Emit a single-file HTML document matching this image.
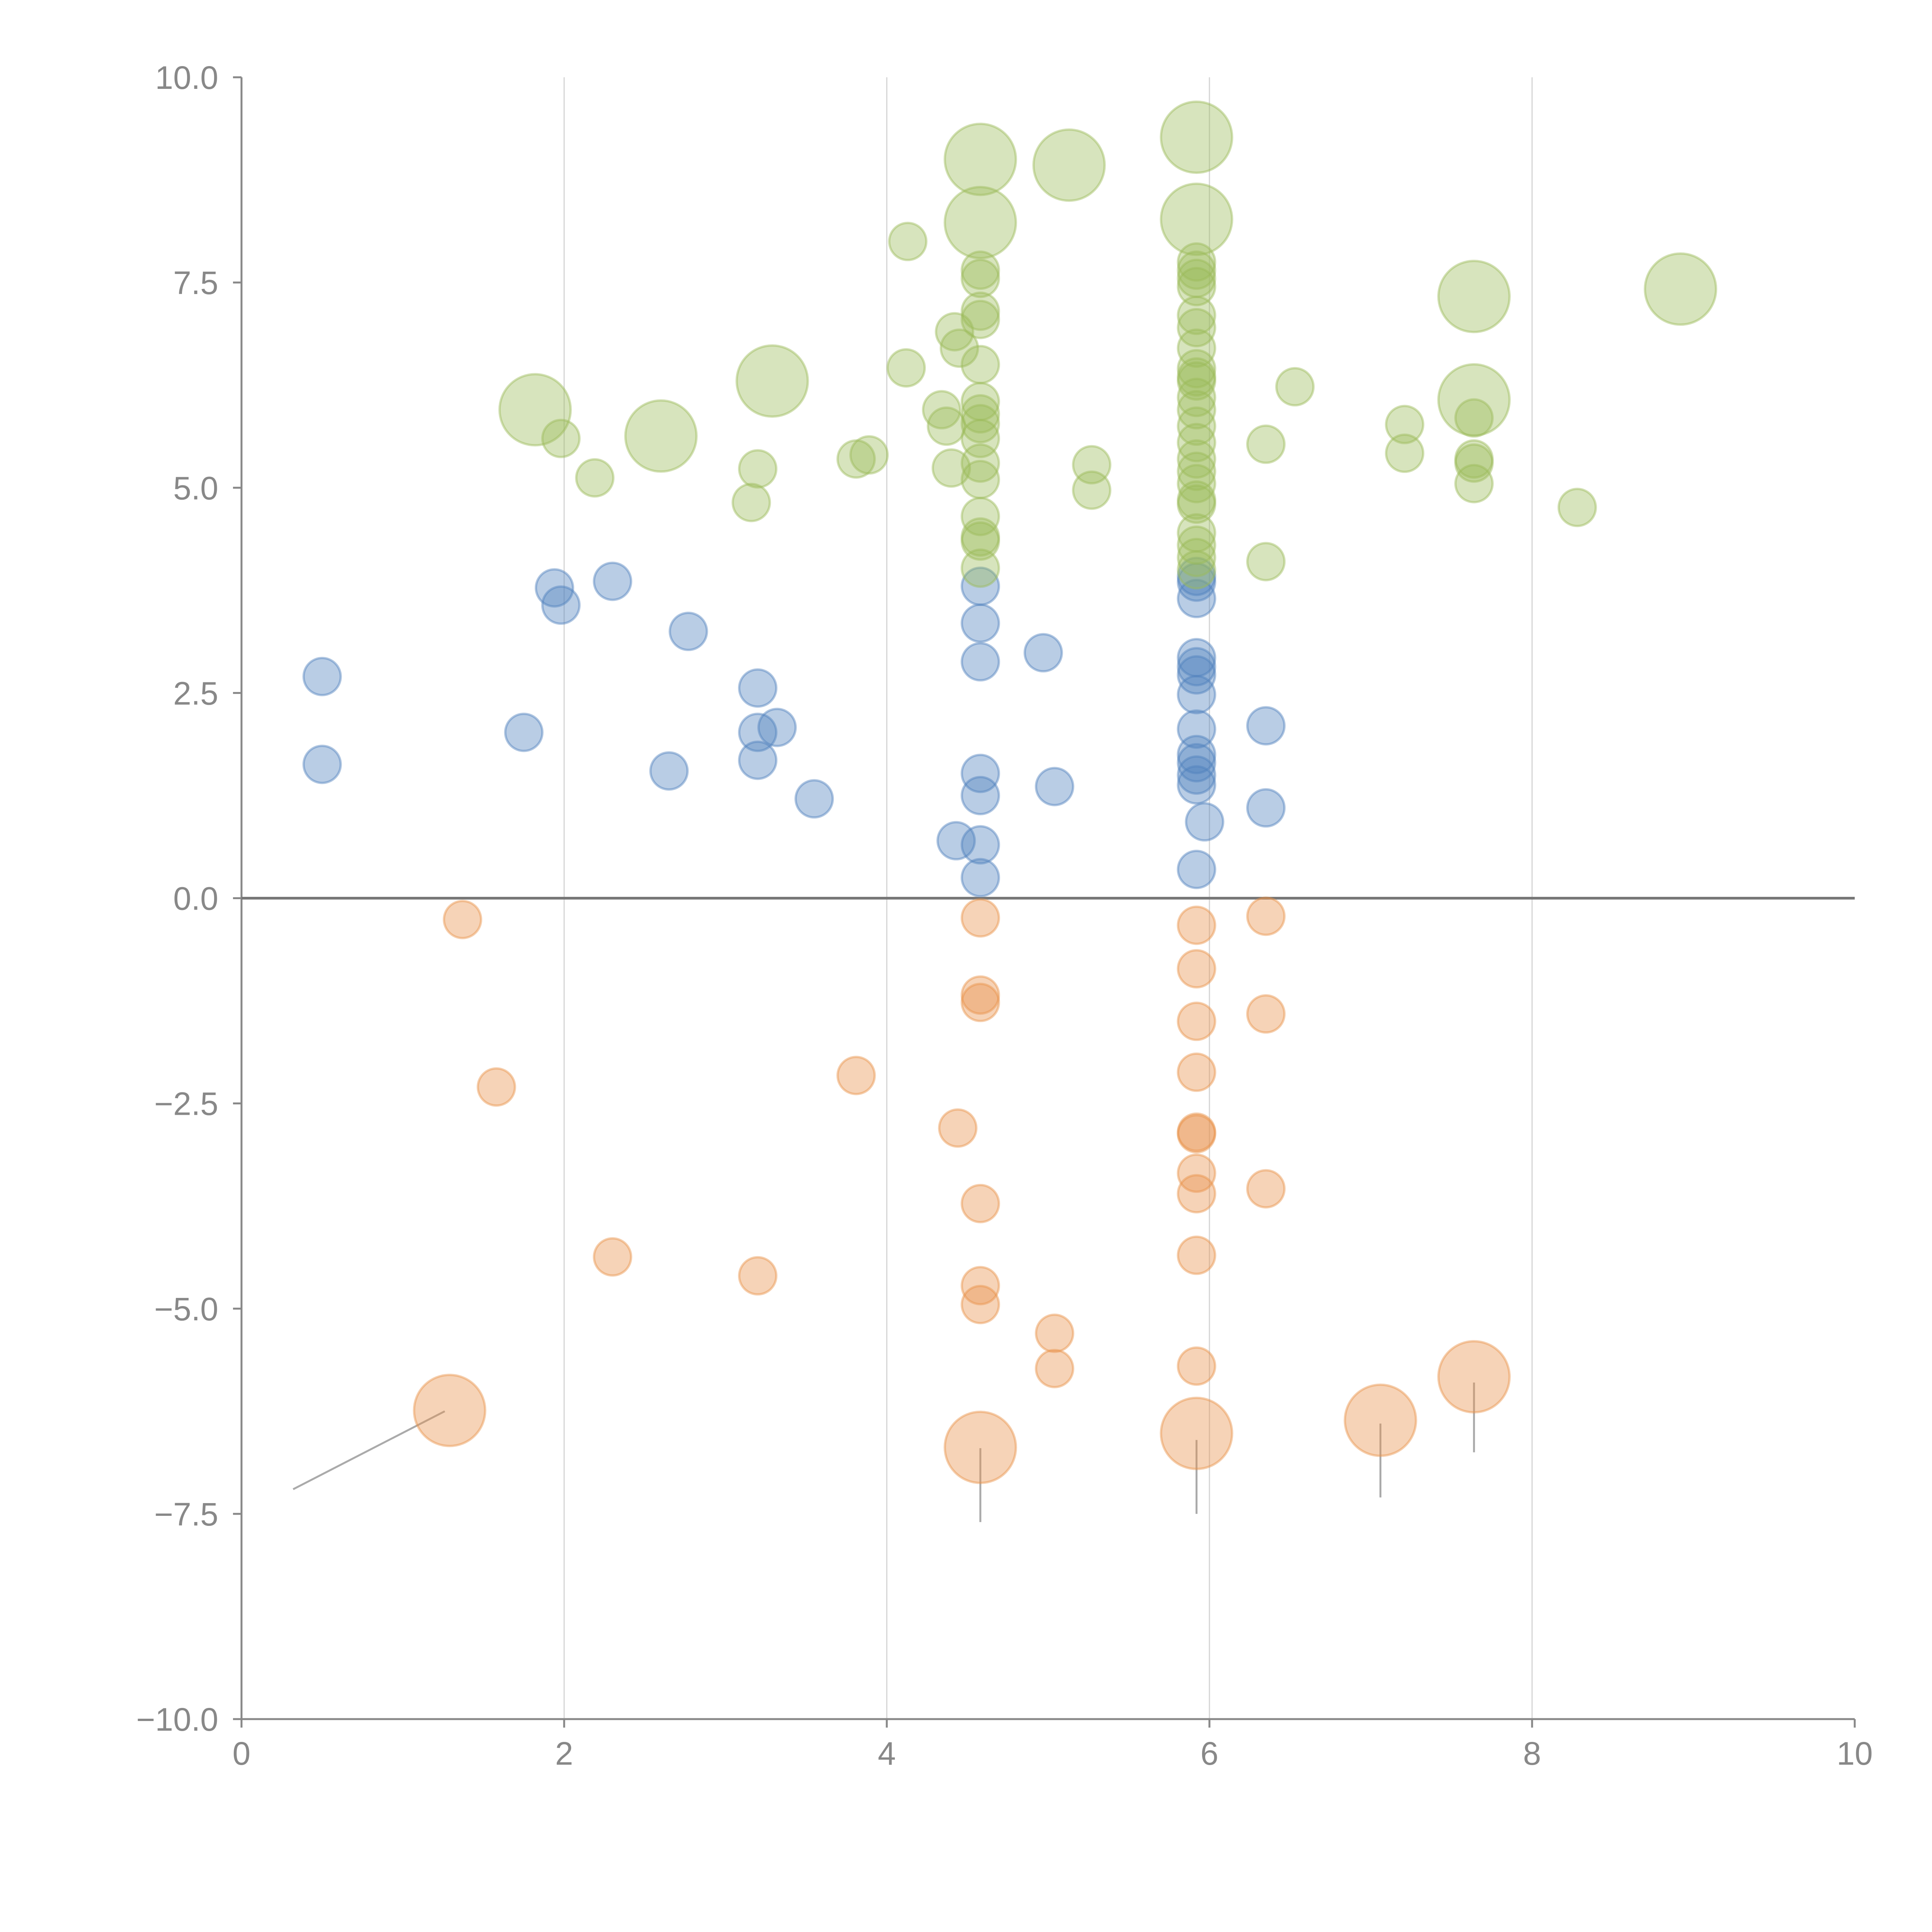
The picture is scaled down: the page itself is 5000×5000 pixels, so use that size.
<!DOCTYPE html>
<html><head><meta charset="utf-8"><style>html,body{margin:0;padding:0;background:#fff}svg{display:block}</style></head>
<body>
<svg id="chart" width="5000" height="5000" viewBox="0 0 5000 5000" xmlns="http://www.w3.org/2000/svg" font-family="'Liberation Sans', sans-serif">
<g id="grid"></g>
<g id="axes"></g>
<g id="marks"></g>
</svg>
<script>
const xTicks = [0, 2, 4, 6, 8, 10];
const yTicks = [-10, -7.5, -5, -2.5, 0, 2.5, 5, 7.5, 10];
const yTickLabels = ["\u221210.0", "\u22127.5", "\u22125.0", "\u22122.5", "0.0", "2.5", "5.0", "7.5", "10.0"];

const blueX = [0.5,0.5,1.75,1.94,1.98,2.3,2.77,2.65,3.2,3.2,3.32,3.2,3.55,4.43,4.58,4.58,4.58,4.58,4.58,4.58,4.58,4.97,5.04,5.92,5.97,5.92,5.92,5.92,5.92,5.92,5.92,5.92,5.92,5.92,5.92,5.92,5.92,6.35,6.35];
const blueY = [2.7,1.63,2.02,3.78,3.57,3.86,3.25,1.55,2.56,2.02,2.08,1.68,1.21,0.7,0.65,0.25,1.52,1.25,2.88,3.35,3.8,2.99,1.36,0.35,0.93,1.38,1.5,1.65,1.75,2.06,2.48,2.72,2.82,2.93,3.65,3.85,3.92,2.1,1.1];
const blueSize = blueX.map(() => 1);

const orangeX = [1.37,1.58,2.3,3.2,3.81,4.44,4.58,4.58,4.58,4.58,4.58,4.58,5.04,5.04,5.92,5.92,5.92,5.92,5.92,5.92,5.92,5.92,5.92,5.92,6.35,6.35,6.35,1.29,4.58,5.92,7.06,7.64];
const orangeY = [-0.26,-2.3,-4.37,-4.6,-2.16,-2.8,-0.24,-1.18,-1.27,-3.72,-4.72,-4.95,-5.3,-5.73,-0.33,-0.86,-1.5,-2.12,-2.85,-2.87,-3.35,-3.6,-4.35,-5.7,-0.22,-1.41,-3.54,-6.24,-6.69,-6.52,-6.36,-5.83];
const orangeSize = [1,1,1,1,1,1,1,1,1,1,1,1,1,1,1,1,1,1,1,1,1,1,1,1,1,1,1,2,2,2,2,2];

const leaderFromX = [1.26,4.58,5.92,7.06,7.64];
const leaderFromY = [-6.25,-6.7,-6.6,-6.4,-5.9];
const leaderToX = [0.32,4.58,5.92,7.06,7.64];
const leaderToY = [-7.2,-7.6,-7.5,-7.3,-6.75];

const greenX = [1.98,2.19,3.16,3.2,3.81,3.89,4.13,4.12,4.34,4.37,4.42,4.45,4.4,4.58,4.58,4.58,4.58,4.58,4.58,4.58,4.58,4.58,4.58,4.58,4.58,4.58,4.58,4.58,5.27,5.27,
5.92,5.92,5.92,5.92,5.92,5.92,5.92,5.92,5.92,5.92,5.92,5.92,5.92,5.92,5.92,5.92,5.92,5.92,5.92,5.92,5.92,5.92,5.92,
6.35,6.35,6.53,7.21,7.21,7.64,7.64,7.64,7.64,8.28,
1.82,2.6,3.29,4.58,4.58,5.13,5.92,5.92,7.64,7.64,8.92];
const greenY = [5.6,5.12,4.82,5.23,5.35,5.4,8.0,6.46,5.95,5.75,6.9,6.7,5.24,7.65,7.55,7.15,7.05,6.5,6.05,5.9,5.78,5.6,5.3,5.1,4.65,4.4,4.35,4.02,5.28,4.97,
7.75,7.65,7.55,7.45,7.1,6.95,6.7,6.45,6.35,6.3,6.1,5.95,5.75,5.55,5.35,5.2,5.05,4.85,4.8,4.45,4.3,4.15,4.0,
5.53,4.1,6.23,5.77,5.42,5.85,5.35,5.3,5.05,4.76,
5.95,5.63,6.3,9.0,8.23,8.93,9.27,8.27,7.33,6.07,7.42];
const greenSize = greenX.map((v, i) => i >= 63 ? 2 : 1);

const X0 = 625, X1 = 4800, Y0 = 4449, Y1 = 200;
function sx(v) { return X0 + (v - 0) / 10 * (X1 - X0); }
function sy(v) { return Y0 - (v + 10) / 20 * (Y0 - Y1); }
function rad(s) { return s === 2 ? 92 : 48; }

const NS = "http://www.w3.org/2000/svg";
function mk(tag, attrs, parent) {
  const e = document.createElementNS(NS, tag);
  for (const k in attrs) e.setAttribute(k, attrs[k]);
  parent.appendChild(e);
  return e;
}
const grid = document.getElementById('grid');
const axes = document.getElementById('axes');
const marks = document.getElementById('marks');

xTicks.forEach((t, i) => {
  if (t > 0 && t < 10) {
    const g = mk('line', {x1: sx(t), x2: sx(t), y1: Y1, y2: Y0, stroke: '#d4d4d4', 'stroke-width': 3}, grid);
    
    
  }
  const tk = mk('line', {x1: sx(t), x2: sx(t), y1: Y0, y2: Y0 + 22, stroke: '#888', 'stroke-width': 5}, axes);
  
  
  const lb = mk('text', {x: sx(t), y: Y0 + 118, 'text-anchor': 'middle', 'font-size': 84, fill: '#888'}, axes);
  lb.textContent = String(t);
  
  
});
yTicks.forEach((t, i) => {
  const tk = mk('line', {x1: X0 - 22, x2: X0, y1: sy(t), y2: sy(t), stroke: '#888', 'stroke-width': 5}, axes);
  
  
  const lb = mk('text', {x: X0 - 60, y: sy(t) + 30, 'text-anchor': 'end', 'font-size': 84, fill: '#888'}, axes);
  lb.textContent = yTickLabels[i];
  
  
});
const ya = mk('line', {x1: X0, x2: X0, y1: Y1, y2: Y0, stroke: '#888', 'stroke-width': 5}, axes);


const xa = mk('line', {x1: X0, x2: X1, y1: Y0, y2: Y0, stroke: '#888', 'stroke-width': 5}, axes);


const zl = mk('line', {x1: X0, x2: X1, y1: sy(0), y2: sy(0), stroke: '#777', 'stroke-width': 7}, axes);



leaderFromX.forEach((v, i) => {
  const l = mk('line', {x1: sx(v), y1: sy(leaderFromY[i]), x2: sx(leaderToX[i]), y2: sy(leaderToY[i]), stroke: '#aaa', 'stroke-width': 5}, marks);
  
  
});

function series(xs, ys, ss, color, name) {
  xs.forEach((v, i) => {
    const c = mk('circle', {cx: sx(v), cy: sy(ys[i]), r: rad(ss[i]), fill: color, 'fill-opacity': 0.4, stroke: color, 'stroke-opacity': 0.45, 'stroke-width': 6}, marks);
    
    
  });
}
series(blueX, blueY, blueSize, '#4f81bd', 'blue-bubble');
series(orangeX, orangeY, orangeSize, '#e8924a', 'orange-bubble');
series(greenX, greenY, greenSize, '#9bbb59', 'green-bubble');
</script>
</body></html>
